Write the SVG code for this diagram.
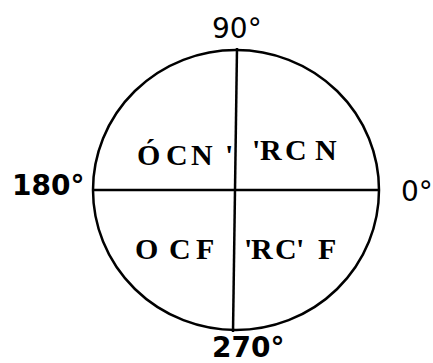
<svg xmlns="http://www.w3.org/2000/svg" width="433" height="363" viewBox="0 0 433 363">
<style>
.ln{stroke:#000;stroke-width:2.5;fill:none}
.deg{font-family:"DejaVu Sans","Liberation Sans",sans-serif;font-size:28px;fill:#000}
.b{font-weight:bold}
.q{font-family:"Liberation Serif",serif;font-weight:bold;font-size:30px;fill:#000}
</style>
<rect width="433" height="363" fill="#fff"/>
<g id="circle"><ellipse class="ln" cx="236" cy="190" rx="143" ry="140"/></g>
<g id="axes">
<line class="ln" x1="237" y1="48" x2="233" y2="332"/>
<line class="ln" x1="93" y1="190" x2="380" y2="190"/>
</g>
<g id="labels">
<text class="deg" x="212" y="38">90°</text>
<text class="deg b" x="12" y="195">180°</text>
<text class="deg" x="401" y="201">0°</text>
<text class="deg b" x="212" y="357">270°</text>
</g>
<g id="quadrants">
<text class="q" y="165"><tspan x="137">Ó</tspan><tspan x="166">C</tspan><tspan x="191">N</tspan><tspan x="225">'</tspan></text>
<text class="q" y="160"><tspan x="252">'</tspan><tspan x="260">R</tspan><tspan x="285">C</tspan><tspan x="315">N</tspan></text>
<text class="q" y="259"><tspan x="135">O</tspan><tspan x="169">C</tspan><tspan x="196">F</tspan></text>
<text class="q" y="259"><tspan x="244">'</tspan><tspan x="251">R</tspan><tspan x="275">C</tspan><tspan x="296">'</tspan><tspan x="318">F</tspan></text>
</g>
</svg>
